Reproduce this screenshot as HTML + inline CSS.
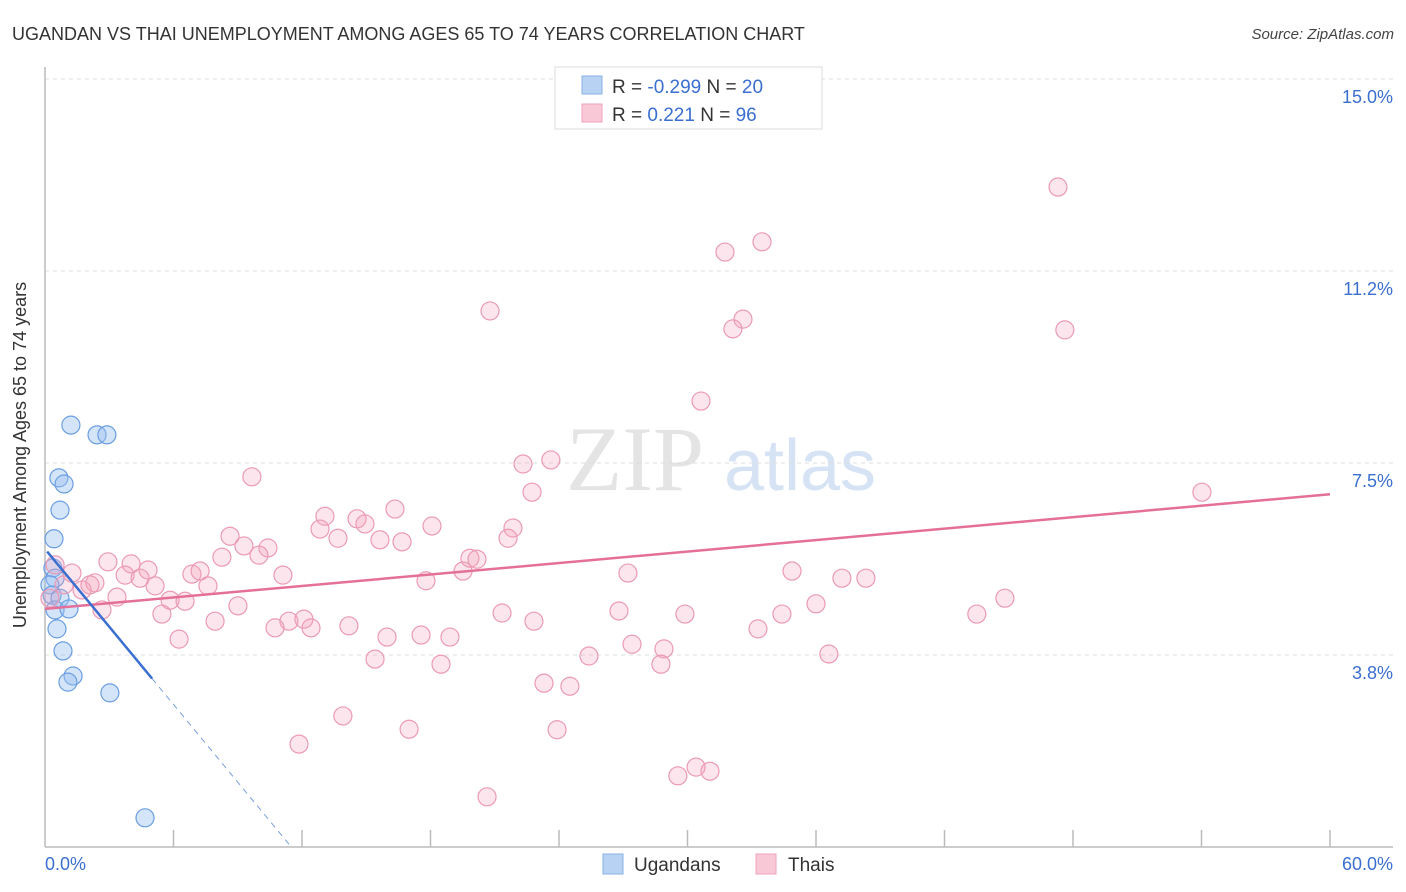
<!DOCTYPE html>
<html><head><meta charset="utf-8"><style>
body{margin:0;background:#fff;}
svg{display:block;font-family:"Liberation Sans",sans-serif;}
</style></head><body>
<svg id="chart" width="1406" height="892" viewBox="0 0 1406 892">
<text x="12" y="40" font-size="18" fill="#333">UGANDAN VS THAI UNEMPLOYMENT AMONG AGES 65 TO 74 YEARS CORRELATION CHART</text>
<text x="1394" y="39" font-size="15" fill="#444" font-style="italic" text-anchor="end">Source: ZipAtlas.com</text>
<g>
<text x="635" y="490" font-size="92" fill="#e4e4e4" font-family="Liberation Serif,serif" text-anchor="middle">ZIP</text>
<text x="800" y="490" font-size="72" fill="#d6e3f4" text-anchor="middle">atlas</text>
</g>
<g id="grid"></g>
<g id="axes"></g>
<g id="blue"></g>
<g id="pink"></g>
<g id="trends"></g>
<text x="26" y="455" font-size="18" fill="#333" text-anchor="middle" transform="rotate(-90 26 455)">Unemployment Among Ages 65 to 74 years</text>
<g>
<rect x="555" y="67" width="267" height="62" fill="#fff" stroke="#ddd"/>
<rect x="582" y="76" width="20" height="18" fill="#b8d2f4" stroke="#8ab0e6"/>
<rect x="582" y="104" width="20" height="18" fill="#f9c8d6" stroke="#eea3ba"/>
<text x="612" y="93" font-size="19" fill="#333">R = <tspan fill="#3a6fd0">-0.299</tspan>   N = <tspan fill="#3a6fd0">20</tspan></text>
<text x="612" y="121" font-size="19" fill="#333">R =   <tspan fill="#3a6fd0">0.221</tspan>   N = <tspan fill="#3a6fd0">96</tspan></text>
</g>
<g>
<rect x="603" y="854" width="20" height="20" fill="#b8d2f4" stroke="#8ab0e6"/>
<text x="634" y="871" font-size="19" fill="#333">Ugandans</text>
<rect x="756" y="854" width="20" height="20" fill="#f9c8d6" stroke="#eea3ba"/>
<text x="788" y="871" font-size="19" fill="#333">Thais</text>
</g>
</svg>
<script>
const yTicks=[3.75,7.5,11.25,15];
const yTickLabels=["3.8%","7.5%","11.2%","15.0%"];
const xTickVals=[0,6,12,18,24,30,36,42,48,54,60];
const xEndLabels=["0.0%","60.0%"];
const blueX=[1.21,2.43,2.89,0.65,0.89,0.70,0.42,0.37,0.47,0.23,0.33,0.70,0.47,1.12,0.56,0.84,1.31,1.07,3.03,4.67];
const blueY=[8.24,8.05,8.05,7.21,7.09,6.58,6.02,5.45,5.25,5.12,4.92,4.86,4.63,4.65,4.26,3.83,3.34,3.22,3.01,0.57];
const pinkX=[47.30,33.48,31.75,20.78,32.59,32.12,47.62,30.63,9.66,22.32,23.62,22.74,54.02,13.07,14.57,14.94,16.34,12.84,18.07,21.85,8.64,9.29,10.41,9.99,13.68,15.64,16.67,21.62,19.84,20.17,8.26,2.94,4.02,4.81,3.74,4.44,6.86,7.24,11.11,19.52,27.22,34.88,37.21,38.33,17.79,2.33,5.14,7.61,3.36,5.84,6.54,9.01,2.66,5.46,7.94,21.34,22.83,26.80,29.88,34.41,36.00,43.51,44.82,11.39,12.09,12.42,10.74,14.19,33.29,15.97,17.56,18.91,6.26,27.41,28.90,25.40,36.60,15.41,18.49,28.76,23.30,24.51,13.91,17.00,23.91,11.86,30.40,31.05,29.55,20.64,0.47,1.26,0.89,1.73,0.23,2.10];
const pinkY=[12.89,11.82,11.62,10.47,10.31,10.12,10.10,8.71,7.23,7.48,7.56,6.93,6.93,6.46,6.41,6.31,6.60,6.21,6.27,6.23,6.07,5.88,5.84,5.70,6.03,6.00,5.96,6.03,5.64,5.62,5.66,5.57,5.53,5.41,5.31,5.25,5.33,5.39,5.31,5.39,5.35,5.39,5.25,5.25,5.20,5.16,5.10,5.10,4.88,4.82,4.80,4.71,4.63,4.55,4.41,4.57,4.41,4.61,4.55,4.55,4.75,4.55,4.86,4.41,4.45,4.28,4.28,4.32,4.26,4.10,4.14,4.10,4.06,3.96,3.87,3.73,3.77,3.67,3.57,3.57,3.20,3.14,2.56,2.30,2.29,2.01,1.56,1.48,1.39,0.98,5.51,5.35,5.12,5.02,4.86,5.12];
const pinkTrend=[4.65,6.89];
const blueTrend={b0:5.82,slope:-0.506,solidEnd:5.0,dashEnd:11.44};

const X0=45,X1=1330,Y0=847,Ytop=79;
const sx=v=>X0+(v/60)*(X1-X0);
const sy=v=>Y0-(v/15)*(Y0-Ytop);
const NS="http://www.w3.org/2000/svg";
function mk(tag,attrs,parent){const e=document.createElementNS(NS,tag);for(const k in attrs)e.setAttribute(k,attrs[k]);parent.appendChild(e);return e;}
const grid=document.getElementById('grid'),axes=document.getElementById('axes');
yTicks.forEach((t,i)=>{
  const l=mk('line',{x1:X0,x2:1393,y1:sy(t),y2:sy(t),stroke:'#ddd','stroke-dasharray':'4,4'},grid);
  
  
  const tx=mk('text',{x:1393,y:sy(t)+24,'font-size':18,fill:'#3a6fd0','text-anchor':'end'},grid);
  tx.textContent=yTickLabels[i];
  
  
});
const ya=mk('line',{x1:X0,x2:X0,y1:67,y2:Y0,stroke:'#bbb','stroke-width':1.5},axes);


const xa=mk('line',{x1:X0,x2:1393,y1:Y0,y2:Y0,stroke:'#bbb','stroke-width':1.5},axes);


xTickVals.forEach(t=>{
  if(t===0)return;
  const l=mk('line',{x1:sx(t),x2:sx(t),y1:Y0-17,y2:Y0,stroke:'#bbb','stroke-width':1.5},axes);
  
  
});
[[0,'start',X0],[1,'end',1393]].forEach(([i,a,x])=>{
  const tx=mk('text',{x:x,y:870,'font-size':18,fill:'#3a6fd0','text-anchor':a},axes);
  tx.textContent=xEndLabels[i];
  
  
});
const pg=document.getElementById('pink');
pinkX.forEach((v,i)=>{
  const c=mk('circle',{cx:sx(v),cy:sy(pinkY[i]),r:9,fill:'rgba(244,160,188,0.28)',stroke:'#eb9ab5','stroke-width':1.2},pg);
  
  
});
const bg=document.getElementById('blue');
blueX.forEach((v,i)=>{
  const c=mk('circle',{cx:sx(v),cy:sy(blueY[i]),r:9,fill:'rgba(150,190,240,0.4)',stroke:'#6a9ee2','stroke-width':1.2},bg);
  
  
});
const tg=document.getElementById('trends');
const pt=mk('line',{x1:sx(0),y1:sy(pinkTrend[0]),x2:sx(60),y2:sy(pinkTrend[1]),stroke:'#e4709a','stroke-width':2.5},tg);


const bf=x=>blueTrend.b0+blueTrend.slope*x;
const bs=mk('line',{x1:sx(0.1),y1:sy(bf(0.1)),x2:sx(blueTrend.solidEnd),y2:sy(bf(blueTrend.solidEnd)),stroke:'#3a6fd0','stroke-width':2.5},tg);


const bd=mk('line',{x1:sx(blueTrend.solidEnd),y1:sy(bf(blueTrend.solidEnd)),x2:sx(blueTrend.dashEnd),y2:sy(bf(blueTrend.dashEnd)),stroke:'#7a9ee0','stroke-width':1,'stroke-dasharray':'6,5'},tg);


</script>
</body></html>
